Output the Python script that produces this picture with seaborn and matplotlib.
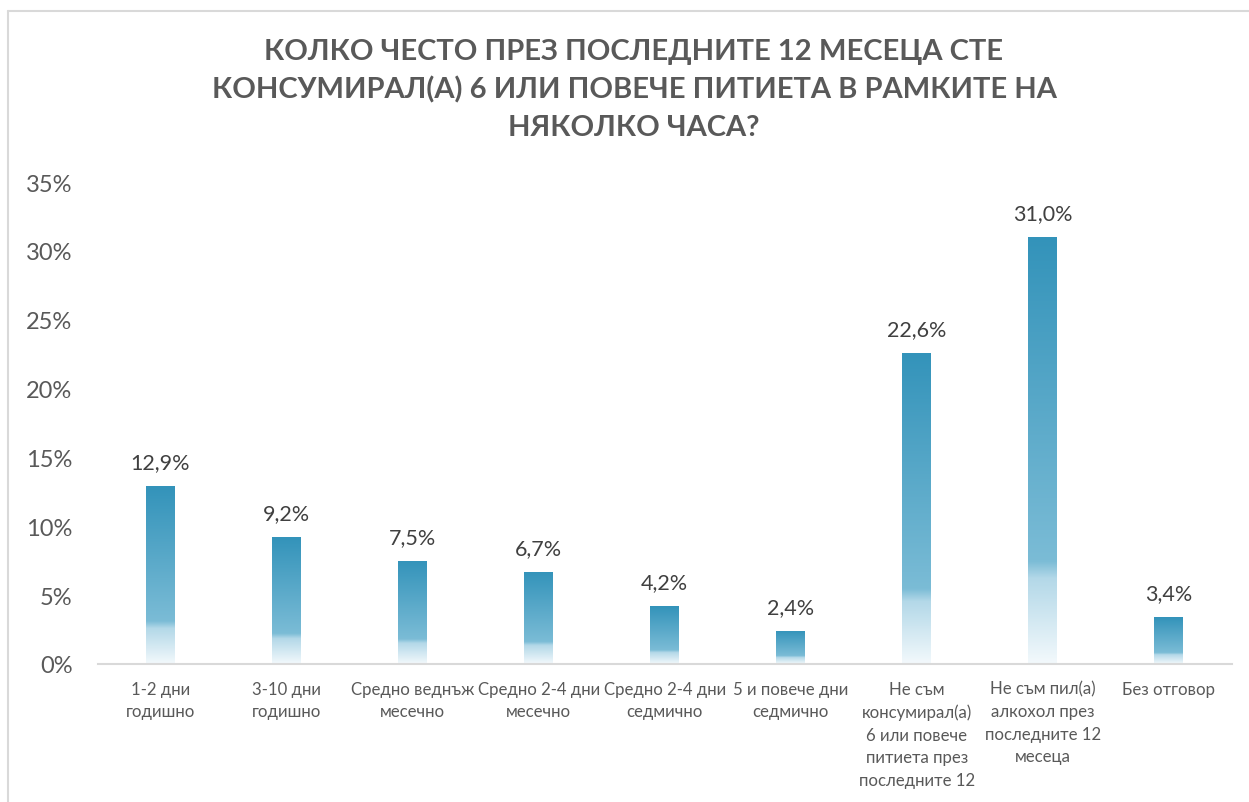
import numpy as np
import pandas as pd
import matplotlib
matplotlib.use("Agg")
import matplotlib.pyplot as plt
import seaborn as sns
from matplotlib.colors import LinearSegmentedColormap
from matplotlib.lines import Line2D

categories = [
    "1-2 дни\nгодишно",
    "3-10 дни\nгодишно",
    "Средно веднъж\nмесечно",
    "Средно 2-4 дни\nмесечно",
    "Средно 2-4 дни\nседмично",
    "5 и повече дни\nседмично",
    "Не съм\nконсумирал(а)\n6 или повече\nпитиета през\nпоследните 12",
    "Не съм пил(а)\nалкохол през\nпоследните 12\nмесеца",
    "Без отговор",
]
values = [12.9, 9.2, 7.5, 6.7, 4.2, 2.4, 22.6, 31.0, 3.4]
yticks = [0, 5, 10, 15, 20, 25, 30, 35]
title = ("КОЛКО ЧЕСТО ПРЕЗ ПОСЛЕДНИТЕ 12 МЕСЕЦА СТЕ\n"
         "КОНСУМИРАЛ(А) 6 ИЛИ ПОВЕЧЕ ПИТИЕТА В РАМКИТЕ НА\n"
         "НЯКОЛКО ЧАСА?")

sns.set_theme(style="white")
plt.rcParams["font.family"] = ["Lato", "DejaVu Sans"]

df = pd.DataFrame({"cat": categories, "val": values})

fig = plt.figure(figsize=(12.49, 8.03), dpi=100)
ax = fig.add_axes([97.5 / 1249, 138 / 803, (1232 - 97.5) / 1249, (665 - 183) / 803])

sns.barplot(data=df, x="cat", y="val", ax=ax, width=0.23, color="#3393BA", saturation=1)

# gradient fill
cmap = LinearSegmentedColormap.from_list(
    "grad",
    [(0.0, "#3393BA"), (0.76, "#7BBCD6"), (0.80, "#B3D8E8"), (1.0, "#F3F9FC")],
)
grad = np.linspace(0, 1, 256).reshape(-1, 1)
for p in ax.patches:
    x0, y0 = p.get_x(), p.get_y()
    w, h = p.get_width(), p.get_height()
    im = ax.imshow(grad, cmap=cmap, aspect="auto", origin="upper",
                   extent=[x0, x0 + w, y0, y0 + h], zorder=2, interpolation="bilinear")
    im.set_clip_path(p)
    p.set_facecolor("none")
    p.set_edgecolor("none")

ax.set_xlim(-0.5, len(categories) - 0.5)
ax.set_ylim(0, 35)
ax.set_yticks(yticks)
ax.set_yticklabels([f"{t}%" for t in yticks], fontsize=17, color="#595959")
ax.tick_params(axis="y", length=0, pad=18)
ax.tick_params(axis="x", length=0, pad=12)
ax.set_xticks(range(len(categories)))
ax.set_xticklabels(categories, fontsize=12.1, color="#595959", linespacing=1.5, va="top")
ax.set_xlabel("")
ax.set_ylabel("")
for s in ["top", "right", "left"]:
    ax.spines[s].set_visible(False)
ax.spines["bottom"].set_color("#D9D9D9")
ax.spines["bottom"].set_linewidth(1.5)

for i, v in enumerate(values):
    ax.annotate(f"{v:.1f}%".replace(".", ","), (i, v), xytext=(0, 10),
                textcoords="offset points", ha="center", va="bottom",
                fontsize=15.5, color="#404040")

fig.text(634 / 1249, 1 - 90 / 803, title, ha="center", va="center",
         fontsize=21, fontweight="bold", color="#595959", linespacing=1.55)

# chart border (top and left)
fig.add_artist(Line2D([8 / 1249, 1], [1 - 12 / 803, 1 - 12 / 803], color="#D9D9D9", lw=1.5,
                      transform=fig.transFigure))
fig.add_artist(Line2D([8 / 1249, 8 / 1249], [0, 1 - 12 / 803], color="#D9D9D9", lw=1.5,
                      transform=fig.transFigure))

fig.savefig("out.png", dpi=100)
